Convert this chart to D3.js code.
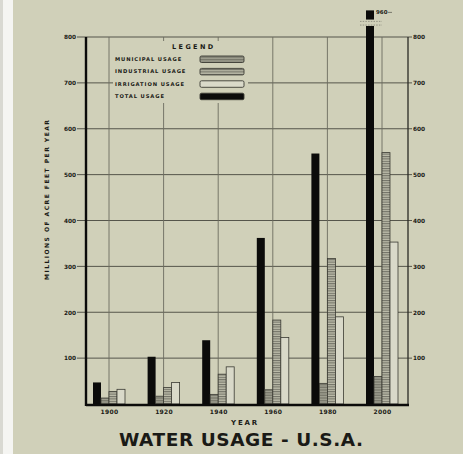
<!DOCTYPE html>
<html>
<head>
<meta charset="utf-8">
<script src="https://cdn.jsdelivr.net/npm/d3@7"></script>
<style>
    body { margin: 0; background: #d0d0b9; }
    #chart { width: 463px; height: 454px; }
    text { font-family: "DejaVu Sans", sans-serif; font-weight: bold; fill: #1a1a16; }
</style>
</head>
<body>
<div id="chart"></div>
<script>
/*
 * Water usage - U.S.A.
 */

// data (millions of acre feet per year)
const years = [1900, 1920, 1940, 1960, 1980, 2000];
const totalUsage = [47, 103, 139, 362, 546, 960];
const municipalUsage = [13, 17, 21, 31, 45, 60];
const industrialUsage = [27, 36, 65, 183, 317, 548];
const irrigationUsage = [32, 47, 81, 145, 190, 353];

const yTicks = [100, 200, 300, 400, 500, 600, 700, 800];
const seriesKeys = ["total", "municipal", "industrial", "irrigation"];
const legendLabels = ["MUNICIPAL USAGE", "INDUSTRIAL USAGE", "IRRIGATION USAGE", "TOTAL USAGE"];
const legendKeys = ["municipal", "industrial", "irrigation", "total"];


class WaterVis {
    constructor(parentElement) {
        this.parentElement = parentElement;
        this.displayData = [];

        this.initVis();
    }

    initVis() {
        let vis = this;

        vis.width = 463;
        vis.height = 454;
        vis.plot = {left: 86, right: 408, top: 37, bottom: 404};

        vis.svg = d3.select("#" + vis.parentElement).append("svg")
            .attr("width", vis.width)
            .attr("height", vis.height);

        // paper + white strip on the left
        vis.svg.append("rect").attr("width", vis.width).attr("height", vis.height).attr("fill", "#d0d0b9");
        vis.svg.append("rect").attr("x", 0).attr("width", 3).attr("height", vis.height).attr("fill", "#d9d9d2");
        vis.svg.append("rect").attr("x", 3).attr("width", 10).attr("height", vis.height).attr("fill", "#f5f5f2");

        // hatch patterns
        let defs = vis.svg.append("defs");
        let mun = defs.append("pattern").attr("id", "hatch-municipal")
            .attr("patternUnits", "userSpaceOnUse").attr("width", 4).attr("height", 1.6);
        mun.append("rect").attr("width", 4).attr("height", 1.6).attr("fill", "#a3a393");
        mun.append("line").attr("x1", 0).attr("x2", 4).attr("y1", 0.4).attr("y2", 0.4)
            .attr("stroke", "#5c5c52").attr("stroke-width", 0.6);

        let ind = defs.append("pattern").attr("id", "hatch-industrial")
            .attr("patternUnits", "userSpaceOnUse").attr("width", 4).attr("height", 2.4);
        ind.append("rect").attr("width", 4).attr("height", 2.4).attr("fill", "#bdbdab");
        ind.append("line").attr("x1", 0).attr("x2", 4).attr("y1", 0.6).attr("y2", 0.6)
            .attr("stroke", "#4a4a42").attr("stroke-width", 0.8);

        vis.fills = {
            total: "#0b0b0a",
            municipal: "url(#hatch-municipal)",
            industrial: "url(#hatch-industrial)",
            irrigation: "#d9d9c9"
        };

        // scales
        vis.x = d3.scalePoint()
            .domain(years)
            .range([109, 382]);

        vis.xInner = d3.scaleBand()
            .domain(seriesKeys)
            .range([-16, 16]);

        vis.y = d3.scaleLinear()
            .domain([0, 800])
            .range([vis.plot.bottom, vis.plot.top]);

        // horizontal grid with labels on both sides
        let grid = vis.svg.append("g").attr("class", "grid");
        grid.selectAll(".hline")
            .data(yTicks)
            .enter().append("line")
            .attr("class", "hline")
            .attr("x1", 77).attr("x2", 412)
            .attr("y1", d => vis.y(d)).attr("y2", d => vis.y(d))
            .attr("stroke", "#55554b").attr("stroke-width", 1);

        grid.selectAll(".vline")
            .data(years)
            .enter().append("line")
            .attr("class", "vline")
            .attr("x1", d => vis.x(d)).attr("x2", d => vis.x(d))
            .attr("y1", vis.plot.top).attr("y2", vis.plot.bottom)
            .attr("stroke", "#6c6c60").attr("stroke-width", 0.9);

        vis.svg.append("g").attr("class", "y-axis-left")
            .attr("transform", "translate(76,0)")
            .call(d3.axisLeft(vis.y).tickValues(yTicks).tickSize(0).tickPadding(0))
            .call(g => g.select(".domain").remove())
            .selectAll("text")
            .attr("font-size", 5.8).attr("font-family", "DejaVu Sans").attr("font-weight", "bold")
            .attr("fill", "#1a1a16");

        vis.svg.append("g").attr("class", "y-axis-right")
            .attr("transform", "translate(413,0)")
            .call(d3.axisRight(vis.y).tickValues(yTicks).tickSize(0).tickPadding(0))
            .call(g => g.select(".domain").remove())
            .selectAll("text")
            .attr("font-size", 5.8).attr("font-family", "DejaVu Sans").attr("font-weight", "bold")
            .attr("fill", "#1a1a16");

        // year labels
        vis.svg.append("g").attr("class", "x-axis")
            .attr("transform", `translate(0,${vis.plot.bottom + 6})`)
            .call(d3.axisBottom(vis.x).tickSize(0).tickPadding(0))
            .call(g => g.select(".domain").remove())
            .selectAll("text")
            .attr("font-size", 6).attr("letter-spacing", 0.3)
            .attr("font-family", "DejaVu Sans").attr("font-weight", "bold")
            .attr("fill", "#1a1a16");

        vis.barLayer = vis.svg.append("g").attr("class", "bars");

        // frame: heavy left axis and baseline, lighter right axis
        vis.svg.append("line")
            .attr("x1", vis.plot.right).attr("x2", vis.plot.right)
            .attr("y1", vis.plot.top).attr("y2", vis.plot.bottom + 1)
            .attr("stroke", "#2a2a25").attr("stroke-width", 1.3);
        vis.svg.append("line")
            .attr("x1", vis.plot.left).attr("x2", vis.plot.left)
            .attr("y1", vis.plot.top).attr("y2", vis.plot.bottom + 2)
            .attr("stroke", "#0b0b0a").attr("stroke-width", 2.4);
        vis.svg.append("line")
            .attr("x1", vis.plot.left).attr("x2", vis.plot.right + 1)
            .attr("y1", vis.plot.bottom + 1).attr("y2", vis.plot.bottom + 1)
            .attr("stroke", "#0b0b0a").attr("stroke-width", 2.4);

        // titles
        vis.svg.append("text")
            .attr("transform", "translate(49,200) rotate(-90)")
            .attr("text-anchor", "middle")
            .attr("font-size", 6)
            .attr("textLength", 160).attr("lengthAdjust", "spacing")
            .text("MILLIONS OF ACRE FEET PER YEAR");

        vis.svg.append("text")
            .attr("x", 245).attr("y", 425)
            .attr("text-anchor", "middle")
            .attr("font-size", 7).attr("letter-spacing", 1.8)
            .text("YEAR");

        vis.svg.append("text")
            .attr("x", 119).attr("y", 446)
            .attr("font-size", 18.5)
            .attr("textLength", 244).attr("lengthAdjust", "spacing")
            .text("WATER USAGE - U.S.A.");

        vis.wrangleData();
    }

    wrangleData() {
        let vis = this;

        let series = {
            total: totalUsage,
            municipal: municipalUsage,
            industrial: industrialUsage,
            irrigation: irrigationUsage
        };

        vis.displayData = [];
        years.forEach(function (year, i) {
            seriesKeys.forEach(function (key) {
                vis.displayData.push({year: year, key: key, value: series[key][i]});
            });
        });

        vis.updateVis();
    }

    updateVis() {
        let vis = this;

        // the 2000 total runs off the top: draw it broken with a small cap
        const breakAt = 824, capLow = 838, capHigh = 858;

        let bars = vis.barLayer.selectAll(".bar")
            .data(vis.displayData);

        bars.exit().remove();

        bars.enter()
            .append("rect")
            .attr("class", "bar")
            .attr("x", d => vis.x(d.year) + vis.xInner(d.key))
            .attr("width", vis.xInner.bandwidth())
            .attr("y", d => vis.y(Math.min(d.value, breakAt)))
            .attr("height", d => vis.y(0) - vis.y(Math.min(d.value, breakAt)))
            .attr("fill", d => vis.fills[d.key])
            .attr("stroke", d => d.key === "total" ? "none" : "#3a3a33")
            .attr("stroke-width", 0.8);

        let broken = vis.displayData.filter(d => d.value > 800);

        vis.barLayer.selectAll(".cap")
            .data(broken)
            .enter().append("rect")
            .attr("class", "cap")
            .attr("x", d => vis.x(d.year) + vis.xInner(d.key))
            .attr("width", vis.xInner.bandwidth())
            .attr("y", vis.y(capHigh))
            .attr("height", vis.y(capLow) - vis.y(capHigh))
            .attr("fill", vis.fills.total);

        broken.forEach(function (d) {
            let x0 = vis.x(d.year) + vis.xInner(d.key);
            [breakAt + 2, breakAt + 10].forEach(function (v) {
                vis.barLayer.append("line")
                    .attr("x1", x0 - 6).attr("x2", x0 + vis.xInner.bandwidth() + 8)
                    .attr("y1", vis.y(v)).attr("y2", vis.y(v))
                    .attr("stroke", "#77776b").attr("stroke-width", 0.7)
                    .attr("stroke-dasharray", "1.5,1.2");
            });
            vis.barLayer.append("text")
                .attr("x", x0 + vis.xInner.bandwidth() + 2)
                .attr("y", vis.y(capHigh) + 4)
                .attr("font-size", 5.5)
                .text(d.value);
            vis.barLayer.append("line")
                .attr("x1", x0 + vis.xInner.bandwidth() + 14).attr("x2", x0 + vis.xInner.bandwidth() + 18)
                .attr("y1", vis.y(capHigh) + 2).attr("y2", vis.y(capHigh) + 2)
                .attr("stroke", "#55554b").attr("stroke-width", 0.7);
        });

        // Legend
        vis.legend = vis.svg.append("g")
            .attr("class", "legend");

        vis.legend.append("rect")
            .attr("x", 113).attr("y", 41)
            .attr("width", 135).attr("height", 62)
            .attr("fill", "#d0d0b9");

        vis.legend.append("text")
            .attr("x", 172).attr("y", 49)
            .attr("font-size", 6.5).attr("letter-spacing", 2.4)
            .text("LEGEND");

        let items = vis.legend.selectAll(".legend-item")
            .data(legendKeys)
            .enter().append("g")
            .attr("class", "legend-item")
            .attr("transform", (d, i) => `translate(0,${59 + i * 12.4})`);

        items.append("text")
            .attr("x", 115).attr("y", 2)
            .attr("font-size", 5.2).attr("letter-spacing", 0.9)
            .text((d, i) => legendLabels[i]);

        items.append("rect")
            .attr("x", 200).attr("y", -3)
            .attr("width", 44).attr("height", 6.5)
            .attr("rx", 1.5)
            .attr("fill", d => vis.fills[d])
            .attr("stroke", "#3a3a33").attr("stroke-width", 0.9);
    }
}

new WaterVis("chart");
</script>
</body>
</html>
